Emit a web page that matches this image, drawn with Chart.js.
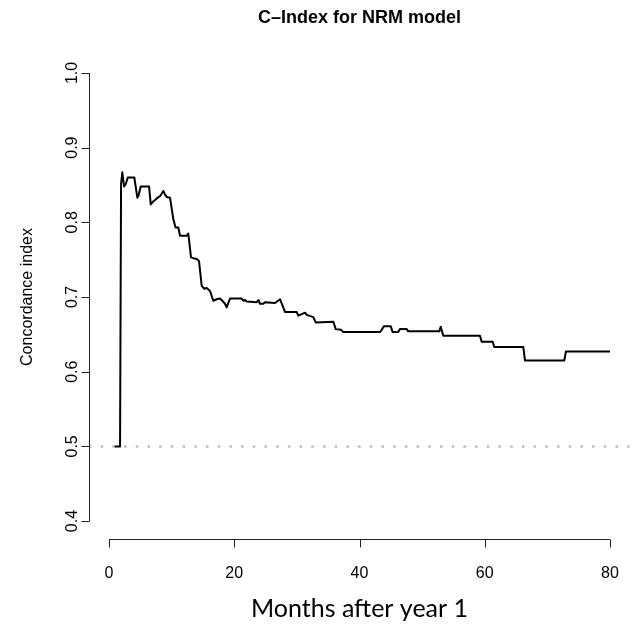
<!DOCTYPE html>
<html>
<head>
<meta charset="utf-8">
<title>C–Index for NRM model</title>
<script src="https://cdn.jsdelivr.net/npm/chart.js@4.4.1/dist/chart.umd.min.js"></script>
<style>
  html, body { margin: 0; padding: 0; background: #ffffff; }
  #wrap { width: 639px; height: 626px; }
</style>
</head>
<body>
<div id="wrap"><canvas id="cindex" width="639" height="626"></canvas></div>
<script>
// Concordance index over follow-up time (months after year 1)
const months = [
  0.9, 1.76, 1.92, 2.12, 2.40, 2.67, 2.99, 4.04, 4.52, 4.68,
  5.06, 6.39, 6.66, 7.07, 7.62, 8.14, 8.67, 8.94, 9.21, 9.74,
  10.27, 10.62, 11.07, 11.34, 12.41, 12.66, 13.09, 13.46, 14.00, 14.37,
  14.80, 15.22, 15.60, 16.13, 16.65, 17.20, 17.72, 18.09, 18.52, 18.79,
  19.32, 21.19, 21.44, 21.72, 21.99, 23.58, 23.84, 24.11, 24.64, 24.91,
  26.51, 27.31, 28.10, 29.97, 30.23, 31.30, 31.57, 32.62, 33.01, 35.82,
  36.20, 37.05, 37.41, 43.27, 43.54, 43.91, 44.98, 45.30, 46.19, 46.47,
  47.54, 47.79, 52.74, 52.97, 53.38, 59.24, 59.51, 61.27, 61.52, 66.16,
  66.43, 72.70, 72.97, 80.00
];
const cIndex = [
  0.500, 0.500, 0.851, 0.867, 0.848, 0.851, 0.860, 0.860, 0.833, 0.835,
  0.848, 0.848, 0.824, 0.828, 0.832, 0.835, 0.842, 0.837, 0.834, 0.833,
  0.804, 0.793, 0.793, 0.782, 0.782, 0.785, 0.753, 0.752, 0.751, 0.748,
  0.715, 0.711, 0.712, 0.708, 0.695, 0.697, 0.698, 0.695, 0.691, 0.686,
  0.698, 0.698, 0.695, 0.696, 0.694, 0.693, 0.696, 0.691, 0.691, 0.693,
  0.692, 0.697, 0.680, 0.680, 0.675, 0.679, 0.676, 0.673, 0.666, 0.667,
  0.657, 0.656, 0.653, 0.653, 0.656, 0.661, 0.661, 0.653, 0.653, 0.657,
  0.657, 0.654, 0.654, 0.660, 0.648, 0.648, 0.640, 0.640, 0.633, 0.633,
  0.615, 0.615, 0.627, 0.627
];
// Reference level for a non-informative model
const chanceLevel = 0.5;
// Tick labels
const xTicks = [0, 20, 40, 60, 80];
const yTicks = [0.4, 0.5, 0.6, 0.7, 0.8, 0.9, 1.0];

const titleText = 'C\u2013Index for NRM model';
const xLabel = 'Months after year 1';
const yLabel = 'Concordance index';

// Base-graphics style plot region: data range padded by 4% on each side
function padded(lo, hi) { const d = (hi - lo) * 0.04; return [lo - d, hi + d]; }
const [xMin, xMax] = padded(xTicks[0], xTicks[xTicks.length - 1]);
const [yMin, yMax] = padded(yTicks[0], yTicks[yTicks.length - 1]);

const curve = months.map((m, i) => ({ x: m, y: cIndex[i] }));
const refLine = [{ x: xMin, y: chanceLevel }, { x: xMax, y: chanceLevel }];

// Draws base-graphics style axes, title and axis labels
const baseAxes = {
  id: 'baseAxes',
  afterDraw(chart) {
    const ctx = chart.ctx;
    const xs = chart.scales.x, ys = chart.scales.y;
    const area = chart.chartArea;
    const tick = 8;
    ctx.save();
    ctx.strokeStyle = '#222';
    ctx.lineWidth = 1;
    ctx.fillStyle = '#000';

    // y axis
    const ax = Math.round(area.left) + 0.5;
    const yTop = ys.getPixelForValue(yTicks[yTicks.length - 1]);
    const yBot = ys.getPixelForValue(yTicks[0]);
    ctx.beginPath();
    ctx.moveTo(ax, yTop); ctx.lineTo(ax, yBot);
    yTicks.forEach(v => {
      const py = Math.round(ys.getPixelForValue(v)) + 0.5;
      ctx.moveTo(ax, py); ctx.lineTo(ax - tick, py);
    });
    ctx.stroke();
    ctx.font = '16px "Liberation Sans", Arial, sans-serif';
    ctx.textAlign = 'center';
    ctx.textBaseline = 'middle';
    yTicks.forEach(v => {
      const py = ys.getPixelForValue(v);
      ctx.save();
      ctx.translate(ax - 16.5, py);
      ctx.rotate(-Math.PI / 2);
      ctx.fillText(v.toFixed(1), 0, 0);
      ctx.restore();
    });

    // x axis
    const ay = Math.round(area.bottom) + 0.5;
    const xL = xs.getPixelForValue(xTicks[0]);
    const xR = xs.getPixelForValue(xTicks[xTicks.length - 1]);
    ctx.beginPath();
    ctx.moveTo(xL, ay); ctx.lineTo(xR, ay);
    xTicks.forEach(v => {
      const px = Math.round(xs.getPixelForValue(v)) + 0.5;
      ctx.moveTo(px, ay); ctx.lineTo(px, ay + tick);
    });
    ctx.stroke();
    xTicks.forEach(v => {
      ctx.fillText(String(v), xs.getPixelForValue(v), ay + 34);
    });

    const cx = (area.left + area.right) / 2;
    const cy = (area.top + area.bottom) / 2;

    // title
    ctx.font = 'bold 18px "Liberation Sans", Arial, sans-serif';
    ctx.fillText(titleText, cx, 18);

    // y label
    ctx.font = '16px "Liberation Sans", Arial, sans-serif';
    ctx.save();
    ctx.translate(28, cy);
    ctx.rotate(-Math.PI / 2);
    ctx.fillText(yLabel, 0, 0);
    ctx.restore();

    // x label
    ctx.font = '25px Lato, "Open Sans", sans-serif';
    ctx.fillText(xLabel, cx, 609);
    ctx.restore();
  }
};

new Chart(document.getElementById('cindex'), {
  type: 'line',
  data: {
    datasets: [
      {
        label: 'C-index',
        data: curve,
        borderColor: '#000',
        borderWidth: 2,
        borderJoinStyle: 'round',
        pointRadius: 0,
        tension: 0,
        fill: false,
        order: 0
      },
      {
        label: 'Chance',
        data: refLine,
        borderColor: '#bdbdbd',
        borderWidth: 2.5,
        borderDash: [2.5, 9.2],
        borderCapStyle: 'butt',
        pointRadius: 0,
        fill: false,
        order: 1
      }
    ]
  },
  options: {
    responsive: false,
    animation: false,
    devicePixelRatio: 1,
    layout: { padding: { left: 89, right: 9, top: 55, bottom: 87 } },
    scales: {
      x: { type: 'linear', min: xMin, max: xMax, display: false },
      y: { type: 'linear', min: yMin, max: yMax, display: false }
    },
    plugins: { legend: { display: false }, tooltip: { enabled: false }, title: { display: false } }
  },
  plugins: [baseAxes]
});
</script>
</body>
</html>
